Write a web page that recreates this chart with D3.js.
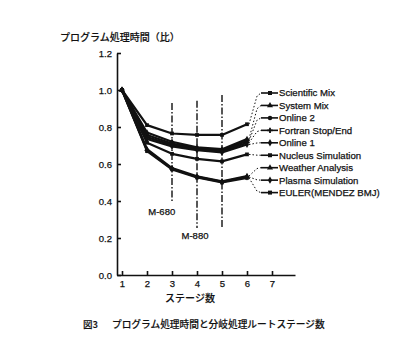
<!DOCTYPE html>
<html><head><meta charset="utf-8">
<script src="https://cdn.jsdelivr.net/npm/d3@7"></script>
<style>
body{margin:0;background:#fff;}
svg{display:block;}
text{font-family:"Liberation Sans",Arial,sans-serif;fill:#111;stroke:#111;stroke-width:0.25px;}
.jp{font-family:"Noto Sans CJK JP",sans-serif;stroke-width:0.15px;}
</style></head>
<body>
<svg id="c" width="394" height="360"></svg>
<script>
const stages = [1, 2, 3, 4, 5, 6];
const xTicks = [1, 2, 3, 4, 5, 6, 7];
const yTicks = [0, 0.2, 0.4, 0.6, 0.8, 1.0, 1.2];
const seriesNames = ["Scientific Mix","System Mix","Online 2","Fortran Stop/End","Online 1","Nucleus Simulation","Weather Analysis","Plasma Simulation","EULER(MENDEZ BMJ)"];
const scientificMix = [1.0, 0.81, 0.765, 0.757, 0.757, 0.815];
const systemMix     = [1.0, 0.77, 0.72, 0.69, 0.68, 0.735];
const online2       = [1.0, 0.757, 0.71, 0.685, 0.674, 0.725];
const fortranStop   = [1.0, 0.745, 0.703, 0.68, 0.668, 0.715];
const online1       = [1.0, 0.735, 0.695, 0.675, 0.662, 0.705];
const nucleusSim    = [1.0, 0.715, 0.655, 0.628, 0.614, 0.652];
const weatherAnal   = [1.0, 0.68, 0.578, 0.534, 0.507, 0.535];
const plasmaSim     = [1.0, 0.675, 0.574, 0.53, 0.503, 0.53];
const eulerMendez   = [1.0, 0.67, 0.571, 0.527, 0.50, 0.525];
const seriesValues = [scientificMix, systemMix, online2, fortranStop, online1, nucleusSim, weatherAnal, plasmaSim, eulerMendez];
const machineNames = ["M-680", "M-880", ""];
const machineStages = [3, 4, 5];
const yTitle = "プログラム処理時間（比）";
const xTitle = "ステージ数";
const caption1 = "図3";
const caption2 = "プログラム処理時間と分岐処理ルートステージ数";

const svg = d3.select("#c");
const x = d3.scaleLinear().domain([0.8, 7.92]).range([117, 295]);
const y = d3.scaleLinear().domain([0, 1.2]).range([275, 53]);
const ink = "#111";

// axes
const ax = svg.append("g").attr("transform", `translate(0,${y(0)})`)
  .call(d3.axisBottom(x).tickValues(xTicks).tickSize(-4).tickSizeOuter(0).tickPadding(5).tickFormat(d3.format("d")));
const ay = svg.append("g").attr("transform", `translate(${x(0.8)},0)`)
  .call(d3.axisLeft(y).tickValues(yTicks).tickSize(-4).tickSizeOuter(0).tickPadding(5).tickFormat(d3.format(".1f")));
[ax, ay].forEach(g => {
  g.selectAll("path,line").attr("stroke", ink).attr("stroke-width", 1.6);
  g.selectAll("text").attr("font-size", 9.5).attr("fill", ink).style("font-family", "Liberation Sans, Arial, sans-serif");
});

// machine vertical dash-dot lines
const mTop = [0.93, 0.942, 0.973], mBot = [0.395, 0.254, 0.254];
machineStages.forEach((s, i) => {
  svg.append("line").attr("x1", x(s)).attr("x2", x(s)).attr("y1", y(mTop[i])).attr("y2", y(mBot[i]))
    .attr("stroke", ink).attr("stroke-width", 1.4).attr("stroke-dasharray", "7,2,1.5,2");
});
const mLabelPos = [[2.59, 0.345], [3.92, 0.214]];
mLabelPos.forEach((p, i) => {
  svg.append("text").attr("x", x(p[0])).attr("y", y(p[1])).attr("text-anchor", "middle")
    .attr("dy", "0.35em").attr("font-size", 9.5).text(machineNames[i]);
});

// series lines
const symbolTypes = [d3.symbolSquare, d3.symbolTriangle, d3.symbolCircle, d3.symbolCross, d3.symbolDiamond, d3.symbolSquare, d3.symbolTriangle, d3.symbolDiamond, d3.symbolSquare];
const line = d3.line().x((d, i) => x(stages[i])).y(d => y(d));
seriesValues.forEach((vals, k) => {
  svg.append("path").attr("d", line(vals)).attr("fill", "none").attr("stroke", ink).attr("stroke-width", 2.2).attr("stroke-linejoin", "round");
  svg.selectAll(null).data(vals).enter().append("path")
    .attr("transform", (d, i) => `translate(${x(stages[i])},${y(d)})`)
    .attr("d", d3.symbol().type(symbolTypes[k]).size(14)).attr("fill", ink);
});

// legend with dotted connectors
const legY0 = 93, legStep = 12.45;
seriesNames.forEach((name, k) => {
  const ly = legY0 + k * legStep;
  const ex = x(6) + 2, ey = y(seriesValues[k][5]);
  svg.append("path").attr("d", `M${ex},${ey}L${ex + 8},${ly + (ey - ly) * 0.1}L${x(6) + 14},${ly}`)
    .attr("fill", "none").attr("stroke", ink).attr("stroke-width", 1).attr("stroke-dasharray", "1.5,2");
  svg.append("line").attr("x1", x(6) + 14).attr("x2", x(6) + 31).attr("y1", ly).attr("y2", ly)
    .attr("stroke", ink).attr("stroke-width", 1.6);
  svg.append("path").attr("transform", `translate(${x(6) + 23},${ly})`)
    .attr("d", d3.symbol().type(symbolTypes[k]).size(16)).attr("fill", ink);
  svg.append("text").attr("x", x(6) + 32).attr("y", ly).attr("dy", "0.35em").attr("font-size", 9.6).text(name);
});

// titles
svg.append("text").attr("class", "jp").attr("x", 60).attr("y", 37).attr("dy", "0.35em")
  .attr("font-size", 10).attr("font-weight", 500).text(yTitle);
svg.append("text").attr("class", "jp").attr("x", 190).attr("y", 298).attr("dy", "0.35em").attr("text-anchor", "middle")
  .attr("font-size", 10).attr("font-weight", 500).text(xTitle);
svg.append("text").attr("class", "jp").attr("x", 83).attr("y", 325).attr("dy", "0.35em")
  .attr("font-size", 9.5).attr("font-weight", 500).text(caption1);
svg.append("text").attr("class", "jp").attr("x", 112).attr("y", 325).attr("dy", "0.35em")
  .attr("font-size", 9.7).attr("font-weight", 500).text(caption2);
</script>
</body></html>
